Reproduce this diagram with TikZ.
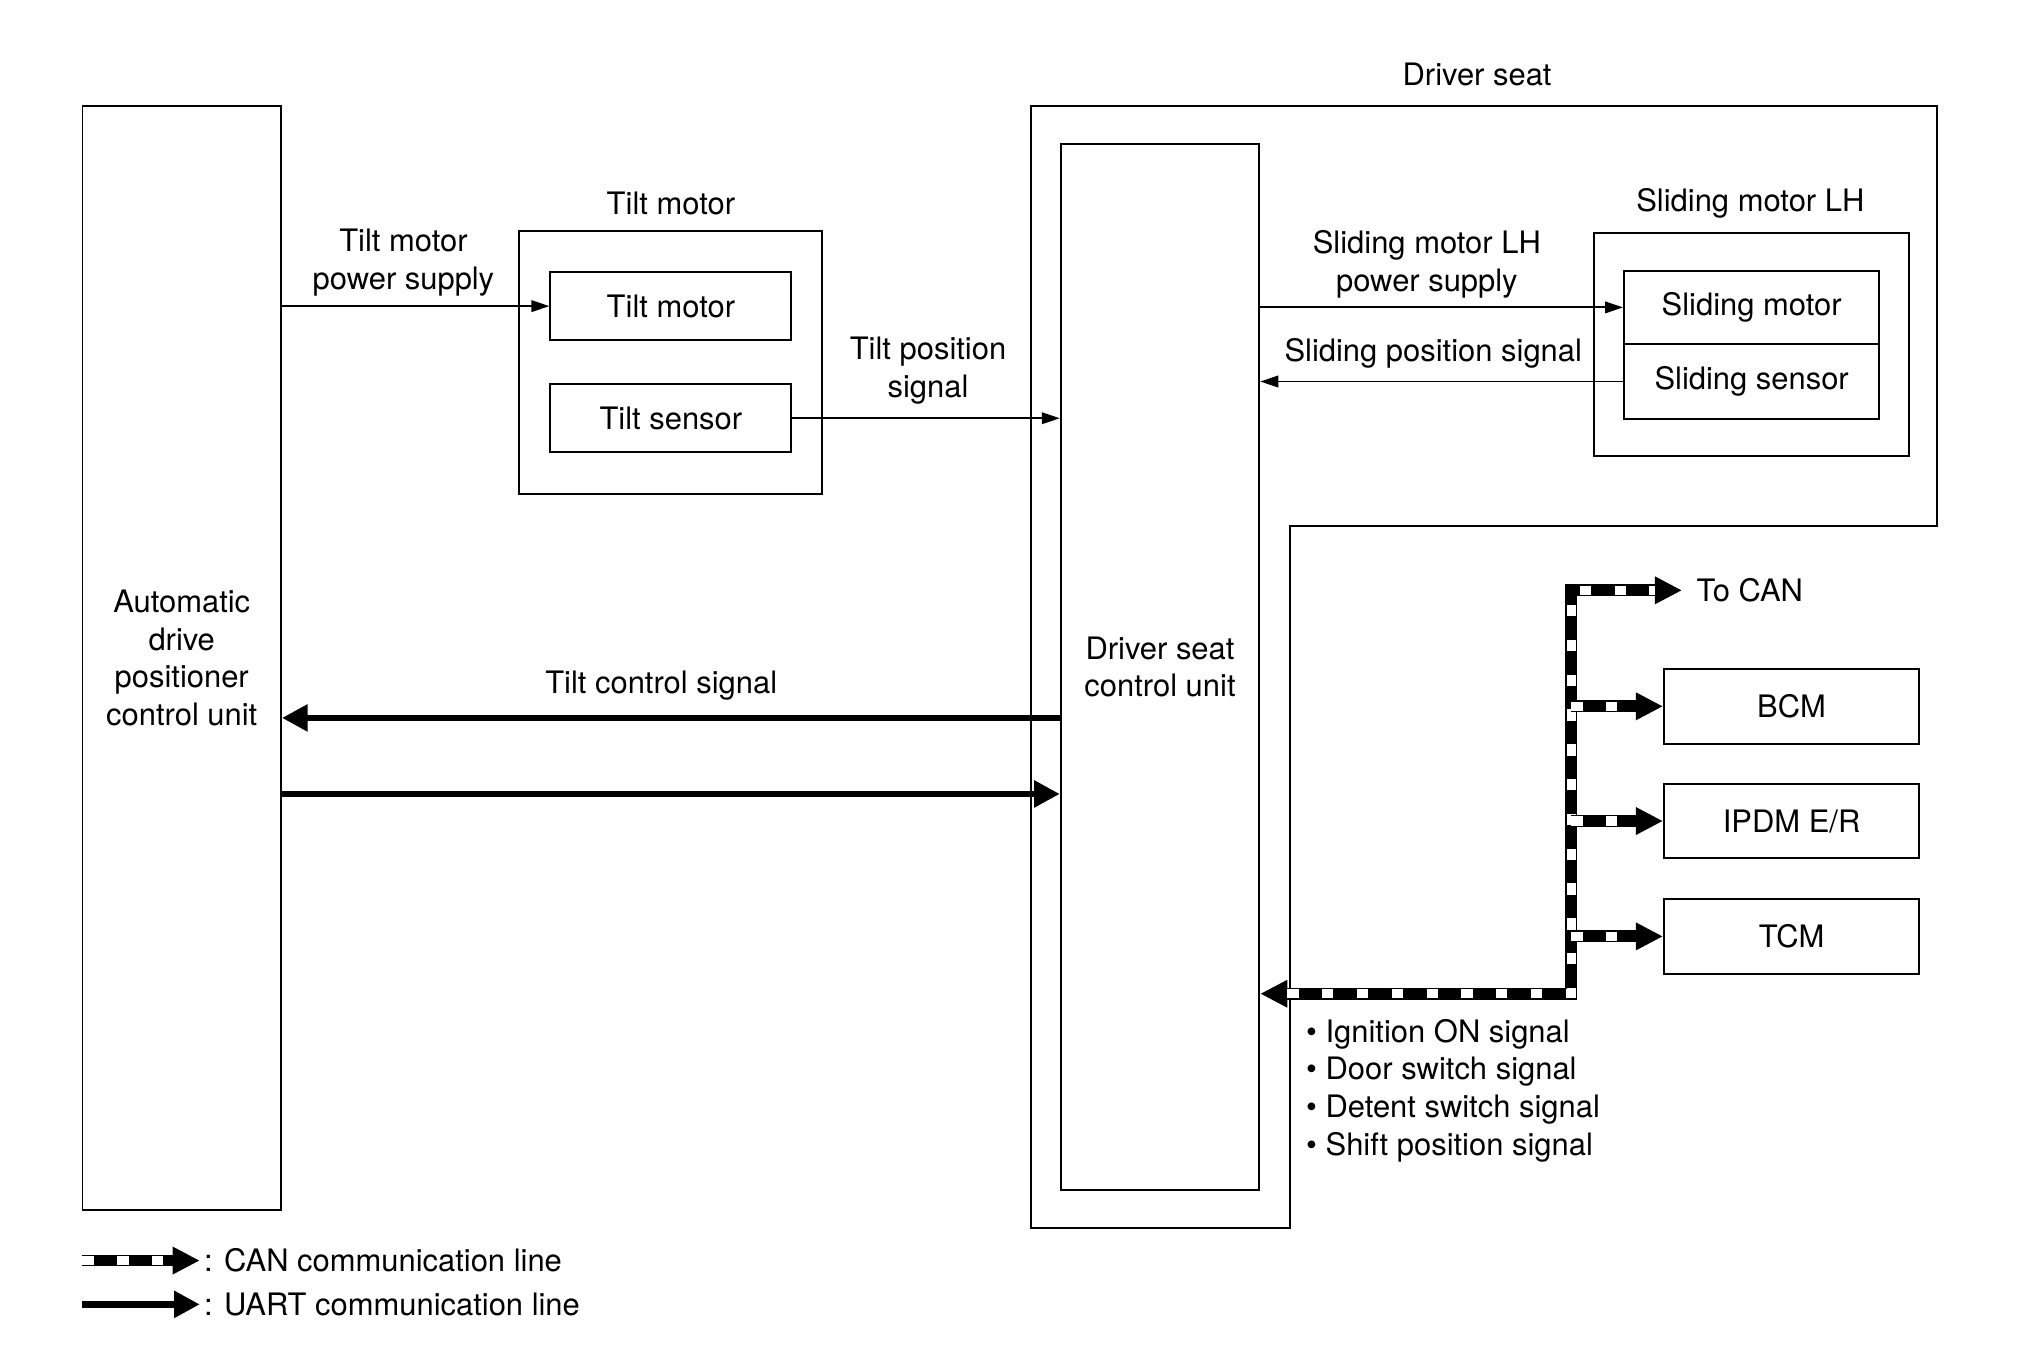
\documentclass[tikz,border=0pt]{standalone}
\usepackage{fontspec}
\setmainfont{TeX Gyre Heros}
\usetikzlibrary{arrows.meta}
\begin{document}
\begin{tikzpicture}[x=0.5pt,y=-0.5pt,
  font=\fontsize{12}{14.6}\selectfont,
  box/.style={draw, line width=0.75pt, inner sep=0pt, align=center},
  lbl/.style={align=center, inner sep=0pt},
  thinarrow/.style={line width=0.75pt, -{Triangle[length=7pt,width=4.5pt]}},
  uart/.style={line width=2.6pt, -{Triangle[length=10pt,width=10pt]}},
  can/.style={line width=4.6pt, line join=miter, -{Triangle[length=10.5pt,width=10pt]},
    postaction={draw=white, line width=3.6pt, dash pattern=on 4.4pt off 9.1pt, -, shorten >=10.5pt}},
  canboth/.style={line width=4.6pt, line join=miter, {Triangle[length=10.5pt,width=10pt]}-{Triangle[length=10.5pt,width=10pt]},
    postaction={draw=white, line width=3.6pt, dash pattern=on 4.4pt off 9.1pt, -, shorten >=10.5pt, shorten <=10.5pt}}]
\useasboundingbox (0,0) rectangle (1568,1064);

% Automatic drive positioner control unit
\node[box, minimum width=77pt, minimum height=428.5pt] (adpcu) at (141,510.5)
  {Automatic\\drive\\positioner\\control unit};

% Tilt motor group
\node[box, minimum width=117.5pt, minimum height=102pt] (tmbox) at (520.5,281) {};
\node[lbl] (tmlbl) at (520.5,158) {Tilt motor};
\node[box, minimum width=93.5pt, minimum height=26.5pt] (tm) at (520.5,237.5) {Tilt motor};
\node[box, minimum width=93.5pt, minimum height=26.5pt] (ts) at (520.5,324.5) {Tilt sensor};

% Driver seat enclosure
\draw[line width=0.75pt] (800,82) -- (1503,82) -- (1503,408) -- (1001,408) -- (1001,953) -- (800,953) -- cycle;
\node[lbl] (dslbl) at (1146,58) {Driver seat};

% Driver seat control unit
\node[box, minimum width=77pt, minimum height=405.5pt] (dscu) at (900,517.5)
  {Driver seat\\control unit};

% Sliding motor group
\node[box, minimum width=122pt, minimum height=86.5pt] (smbox) at (1359,267.5) {};
\node[lbl] (smlbl) at (1358,158) {Sliding motor LH};
\node[box, minimum width=99pt, minimum height=28.5pt] (sm) at (1359,238.5) {Sliding motor};
\node[box, minimum width=99pt, minimum height=29pt] (ss) at (1359,296) {Sliding sensor};

% CAN units
\node[box, minimum width=99pt, minimum height=29pt] (bcm) at (1390,548) {BCM};
\node[box, minimum width=99pt, minimum height=29pt] (ipdm) at (1390,637) {IPDM E/R};
\node[box, minimum width=99pt, minimum height=29pt] (tcm) at (1390,726.5) {TCM};

% signal labels
\node[lbl] (l1) at (313,203.5) {Tilt motor\\power supply};
\node[lbl] (l2) at (720,287.5) {Tilt position\\signal};
\node[lbl] (l3) at (1107,205) {Sliding motor LH\\power supply};
\node[lbl] (l4) at (1112,274) {Sliding position signal};
\node[lbl] (l5) at (513,532) {Tilt control signal};
\node[lbl, anchor=west, align=left] (bul) at (1013,846)
  {\textbullet\ Ignition ON signal\\\textbullet\ Door switch signal\\\textbullet\ Detent switch signal\\\textbullet\ Shift position signal};

% thin arrows
\draw[thinarrow] (adpcu.east |- tm.west) -- (tm.west);
\draw[thinarrow] (ts.east) -- (dscu.west |- ts.east);
\draw[thinarrow] (dscu.east |- sm.west) -- (sm.west);
\draw[thinarrow] (ss.west) -- (dscu.east |- ss.west);

% UART lines
\coordinate (u1) at (0,557);
\coordinate (u2) at (0,616);
\draw[uart] (dscu.west |- u1) -- (adpcu.east |- u1);
\draw[uart] (adpcu.east |- u2) -- (dscu.west |- u2);

% CAN bus
\coordinate (j) at (1219,771);
\coordinate (top) at (1219,458);
\node[anchor=west, inner xsep=5.5pt, inner ysep=0pt] (tocan) at (1305,458) {To CAN};
\draw[canboth] (dscu.east |- j) -- (j) -- (top) -- (tocan.west);
\draw[can] (top |- bcm.west) -- (bcm.west);
\draw[can] (top |- ipdm.west) -- (ipdm.west);
\draw[can] (top |- tcm.west) -- (tcm.west);

% legend
\coordinate (lc) at (64,978);
\coordinate (lu) at (64,1012);
\node[anchor=west, inner xsep=1.5pt, inner ysep=0pt] (lcan) at (155,978) {: CAN communication line};
\node[anchor=west, inner xsep=1.5pt, inner ysep=0pt] (luart) at (155,1012) {: UART communication line};
\draw[can] (lc) -- (lcan.west);
\draw[uart] (lu) -- (luart.west);
\end{tikzpicture}
\end{document}
